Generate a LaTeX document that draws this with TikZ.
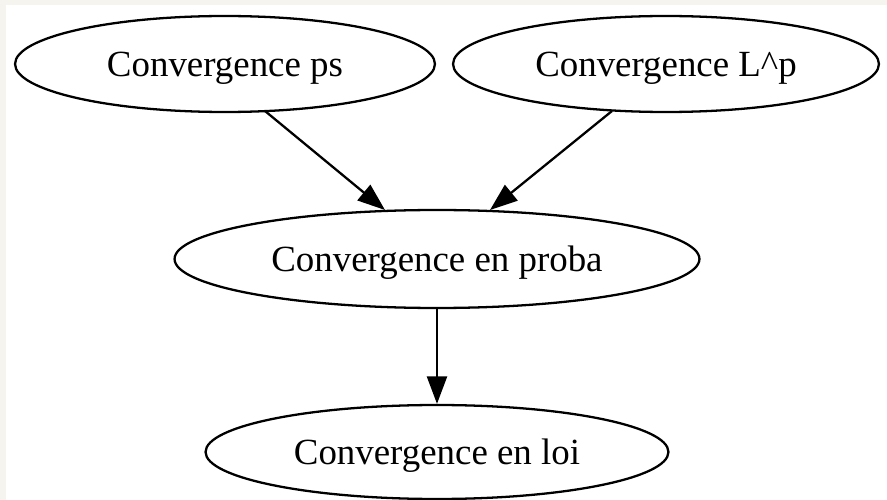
\documentclass[tikz,border=0pt]{standalone}
\usepackage{fontspec}
\setmainfont{Liberation Serif}
\usetikzlibrary{shapes.geometric,arrows.meta}
\definecolor{bgframe}{HTML}{F5F4EF}
\tikzset{
	conv/.style={draw, ellipse, line width=1.3pt, inner sep=0pt, fill=white,
		text depth=0pt, font=\fontsize{21}{26}\selectfont},
	implies/.style={-{Triangle[length=0.55cm, width=0.4cm]}, line width=1.3pt}
}
\begin{document}
\begin{tikzpicture}[x=0.02cm, y=-0.02cm]
		\useasboundingbox (0,0) rectangle (887,500);
		\fill[bgframe] (0,0) rectangle (887,500);
		\fill[white] (6,5) rectangle (887,500);
		\node[conv, minimum width=8.4cm, minimum height=1.92cm] at (225,64)(ps){Convergence ps};
		\node[conv, minimum width=8.52cm, minimum height=1.92cm] at (666,64)(lp){Convergence L\^{}p};
		\node[conv, minimum width=10.5cm, minimum height=1.96cm] at (437,259)(proba){Convergence en proba};
		\node[conv, minimum width=9.26cm, minimum height=1.88cm] at (437,452)(loi){Convergence en loi};
		% end points where the arrows meet the ellipses
		\coordinate (ps-out) at (265,111);
		\coordinate (lp-out) at (612,111);
		\coordinate (proba-in1) at (385,210);
		\coordinate (proba-in2) at (490,210);
		\path[implies] (ps-out) edge (proba-in1)
			(lp-out) edge (proba-in2)
			(proba) edge (loi);
	\end{tikzpicture}
\end{document}
